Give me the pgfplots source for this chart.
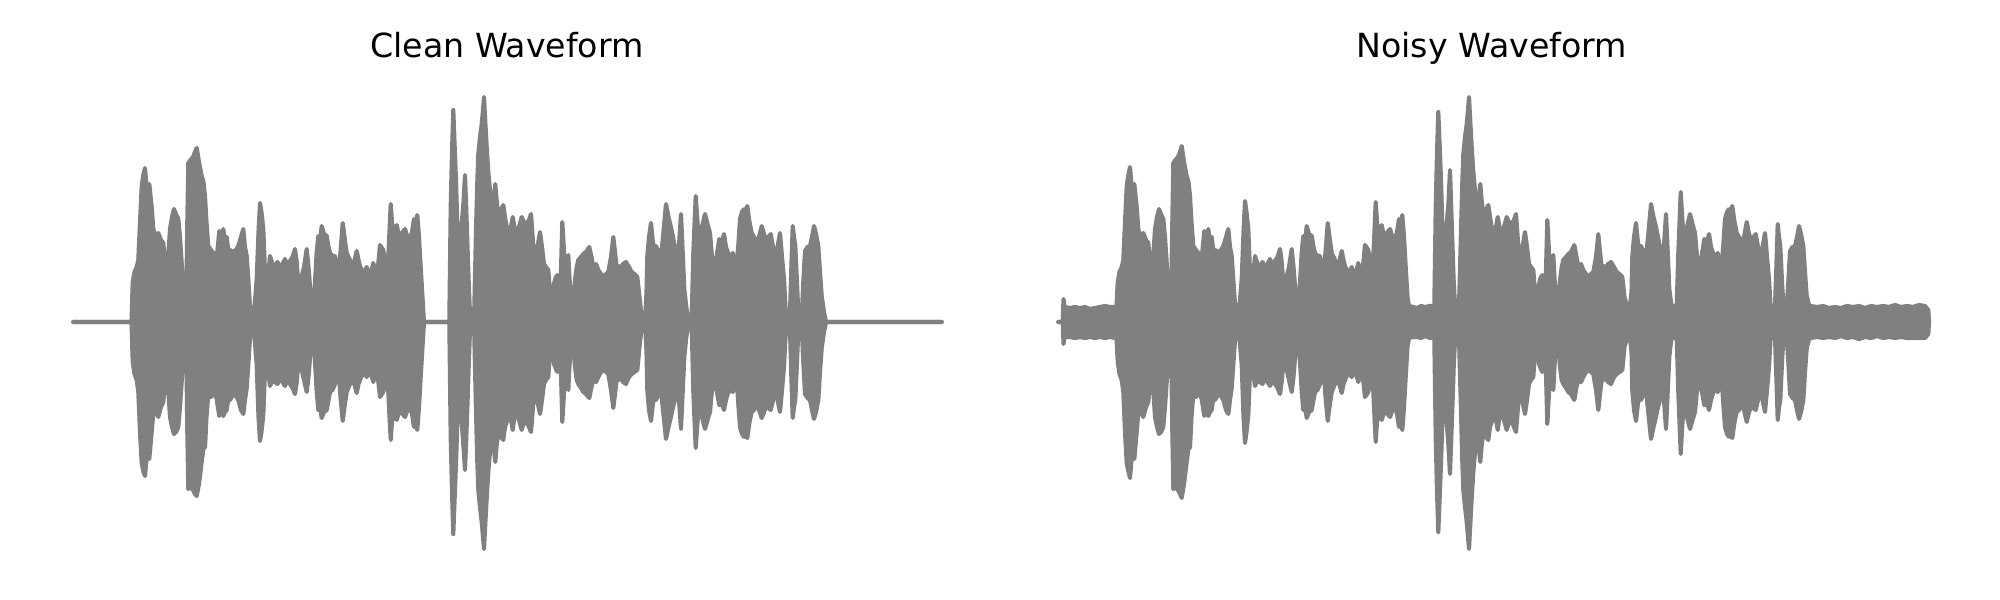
\documentclass[border=0pt]{standalone}
\usepackage{fontspec}
\setmainfont{DejaVu Sans}
\usepackage{pgfplots}
\usepackage{pgfplotstable}
\pgfplotsset{compat=1.18}
\definecolor{wave}{RGB}{128,128,128}

\pgfplotstableread{
x up lo
73.3 0 0
131.5 0 0
132.7 40 -40
134.5 50 -52
136.7 55 -58
138.3 62 -70
140 100 -110
141.7 136 -141
143.5 148 -150
145 154 -154
147 130 -132
149.3 138 -137
151.7 115 -110
153.3 93 -91
155.5 85 -88
158.3 89 -95
161 82 -85
163.3 79 -80
165 60 -60
166.7 33 -33
168.5 70 -72
170 93 -95
172 105 -105
174 113 -112
176 108 -110
178.3 103 -105
180 85 -85
181.7 59 -60
183.5 30 -30
185 12 -12
186 0 0
187.3 100 -110
188.3 159 -167
190.5 162 -165
193 165 -168
195 170 -172
196.7 174 -174
199 160 -162
201.7 146 -140
203.5 140 -126
205 126 -126
206.5 100 -95
208.3 76 -72
211 72 -75
213.3 69 -70
216.5 62 -76
219.3 91 -94
221.5 80 -85
223.3 93 -94
225 80 -90
226.7 85 -88
228.5 70 -75
230 72 -78
233.3 70 -72
236 72 -74
238.3 76 -78
241 85 -88
243.3 93 -92
245 75 -78
246.7 66 -66
248.5 40 -40
250 16 -16
252.7 0 0
254.5 15 -15
256.7 43 -43
258.5 90 -95
260 119 -119
261.5 110 -110
263.3 93 -93
265 50 -50
266.7 26 -26
268.5 50 -52
270 66 -64
272.5 58 -58
275 56 -60
277.5 60 -62
280 54 -56
282.5 58 -60
285 63 -64
287.5 55 -58
290 61 -62
292.5 65 -66
295 73 -72
296.7 60 -60
298.3 39 -40
301.7 46 -48
304 55 -58
306.7 73 -70
308.5 55 -55
310 36 -36
311.7 15 -15
313.3 0 0
315 40 -40
316.7 70 -70
318.3 86 -88
320 80 -85
321.7 96 -96
324 88 -90
326.7 86 -88
328.5 75 -78
330 69 -70
332.5 66 -68
335 66 -62
336.7 55 -55
338.3 43 -45
340.5 70 -75
342.7 99 -99
344.5 85 -85
346.7 69 -70
350 62 -62
353.3 56 -58
356.7 71 -71
358.5 62 -62
360 56 -58
363.3 48 -50
366.7 55 -55
370 45 -48
373.3 59 -60
376.7 42 -45
380 77 -75
383.3 72 -70
385.5 58 -58
387.3 45 -48
389 80 -85
390.7 118 -118
392 100 -100
393.3 85 -90
395 90 -92
396.7 97 -98
398.5 88 -92
400 85 -88
402.5 90 -92
405 93 -95
407.5 85 -88
410 82 -85
412 90 -92
414 103 -105
415.5 95 -98
417.3 107 -108
419 85 -85
420.7 55 -55
422.5 25 -25
424 0 0
449.3 0 0
450.7 115 -115
452 170 -170
453.3 212 -212
454.5 180 -180
456 142 -142
457.5 90 -95
459.3 48 -55
460.5 75 -80
461.7 98 -100
463.5 120 -125
465 147 -148
466.2 115 -118
467.3 82 -88
468.7 40 -45
470 8 -8
474 0 0
476 92 -90
477.3 140 -140
478.3 168 -168
480 185 -185
481.7 198 -200
483 212 -215
484 225 -227
485.3 200 -202
486.7 175 -176
488.3 150 -150
490 132 -130
491.3 118 -120
492.7 108 -110
494 125 -128
495.3 138 -140
496.8 120 -122
498.3 108 -112
501 112 -115
503.3 117 -118
505 105 -105
506.7 95 -100
508 85 -90
509.3 78 -82
511 95 -98
512.7 105 -108
514.5 95 -95
516.7 88 -90
519 95 -98
521.7 105 -108
524 100 -100
526.7 98 -100
529 102 -105
531 108 -110
533 80 -85
535 55 -58
537.5 75 -80
540 90 -92
542 75 -78
544 58 -62
546 55 -58
548.3 52 -55
550 30 -30
551.7 8 -8
553 25 -30
554 38 -42
555.5 44 -46
557.3 47 -50
558.8 30 -30
560 8 -8
561.2 60 -60
562.3 100 -100
563.5 80 -80
565 48 -50
566.5 58 -60
568.3 67 -68
570 35 -35
571.7 5 -5
573.3 25 -25
575 42 -45
576.7 55 -58
578.3 62 -62
581 65 -66
583.3 68 -70
586 70 -72
589.3 75 -76
591.5 65 -65
593.3 55 -58
596 58 -60
598.3 52 -55
601 48 -50
603.3 45 -48
606 48 -50
608.3 50 -52
611 65 -68
613.3 85 -86
615 70 -72
616.7 55 -58
618.5 56 -58
620 53 -55
623 58 -60
626 60 -62
629 55 -55
631.7 50 -52
634.5 48 -50
637.3 45 -48
639.5 25 -25
641.7 5 -5
645 0 0
646.5 30 -30
647.3 66 -68
649 85 -88
651 99 -99
653.3 76 -78
656 76 -78
658.5 70 -72
660.7 63 -66
663 85 -88
666 118 -117
668.5 105 -105
670.7 96 -96
673 85 -85
675 74 -78
678.3 66 -68
681 108 -107
682.7 70 -70
684.3 33 -35
686.3 15 -15
688.3 4 -4
691.7 3 -3
693.3 69 -70
695.7 126 -126
697.5 100 -100
699.3 79 -80
702 95 -95
705 108 -107
707.5 98 -98
710 89 -90
712 65 -68
714 43 -45
716.5 65 -68
719.3 83 -83
722 80 -82
724 88 -88
726 75 -78
728.3 68 -70
730.5 65 -68
732.7 69 -70
734.7 60 -62
736.7 56 -58
738.5 80 -85
740 103 -105
742 110 -112
744 113 -115
745.8 112 -114
747.3 116 -116
749.5 100 -100
751.7 89 -90
754 85 -88
756.7 79 -82
759 85 -88
761.7 96 -96
764 88 -90
766 83 -85
768.5 85 -86
770.7 88 -88
773 75 -78
775 63 -66
777.5 75 -78
780 89 -90
782 65 -68
784 43 -45
785.5 15 -15
786.7 4 -4
790 9 -9
791.5 60 -60
792.7 96 -96
794 85 -85
795.3 76 -78
797 40 -40
798.3 9 -9
801.7 6 -6
803.3 40 -40
805 71 -72
807.5 75 -76
810 76 -78
812 85 -88
814 96 -97
816 88 -90
818.3 76 -78
820 50 -50
821.7 26 -26
824 10 -10
826 0 0
941.7 0 0
}\cleantab

\pgfplotstableread{
x up lo
73.3 0 0
77.7 0 0
78.5 23 -22
79.5 15 -15
85 14 -15
90 15 -16
95 14 -15
100 15 -16
105 13 -15
110 14 -16
115 15 -15
120 16 -16
125 15 -15
130 15 -16
131.5 16 -16
132.7 40 -40
134.5 50 -52
136.7 55 -58
138.3 62 -70
140 100 -110
141.7 136 -141
143.5 148 -150
145 155 -156
147 130 -132
149.3 138 -137
151.7 115 -110
153.3 93 -91
155.5 85 -88
158.3 89 -95
161 82 -85
163.3 79 -80
165 60 -60
166.7 33 -33
168.5 70 -72
170 93 -95
172 105 -105
174 113 -112
176 108 -110
178.3 103 -105
180 85 -85
181.7 59 -60
183.5 30 -30
185 16 -16
186 16 -16
187.3 100 -110
188.3 159 -167
190.5 162 -165
193 165 -168
195 170 -172
196.7 176 -176
199 160 -162
201.7 146 -140
203.5 140 -126
205 126 -126
206.5 100 -95
208.3 76 -72
211 72 -75
213.3 69 -70
216.5 62 -76
219.3 91 -94
221.5 80 -85
223.3 93 -94
225 80 -90
226.7 85 -88
228.5 70 -75
230 72 -78
233.3 70 -72
236 72 -74
238.3 76 -78
241 85 -88
243.3 93 -92
245 75 -78
246.7 66 -66
248.5 40 -40
250 18 -18
252.7 16 -16
254.5 17 -17
256.7 43 -43
258.5 90 -95
260 121 -121
261.5 110 -110
263.3 93 -93
265 50 -50
266.7 26 -26
268.5 50 -52
270 66 -64
272.5 58 -58
275 56 -60
277.5 60 -62
280 54 -56
282.5 58 -60
285 63 -64
287.5 55 -58
290 61 -62
292.5 65 -66
295 73 -72
296.7 60 -60
298.3 39 -40
301.7 46 -48
304 55 -58
306.7 73 -70
308.5 55 -55
310 36 -36
311.7 17 -17
313.3 16 -16
315 40 -40
316.7 70 -70
318.3 86 -88
320 80 -85
321.7 96 -96
324 88 -90
326.7 86 -88
328.5 75 -78
330 69 -70
332.5 66 -68
335 66 -62
336.7 55 -55
338.3 43 -45
340.5 70 -75
342.7 99 -99
344.5 85 -85
346.7 69 -70
350 62 -62
353.3 56 -58
356.7 71 -71
358.5 62 -62
360 56 -58
363.3 48 -50
366.7 55 -55
370 45 -48
373.3 59 -60
376.7 42 -45
380 77 -75
383.3 72 -70
385.5 58 -58
387.3 45 -48
389 80 -85
390.7 120 -120
392 100 -100
393.3 85 -90
395 90 -92
396.7 97 -98
398.5 88 -92
400 85 -88
402.5 90 -92
405 93 -95
407.5 85 -88
410 82 -85
412 90 -92
414 103 -105
415.5 95 -98
417.3 107 -108
419 85 -85
420.7 55 -55
422.5 25 -25
424 16 -16
428 15 -15
432 14 -15
436 16 -16
440 15 -14
445 16 -16
449.3 16 -16
450.7 115 -115
452 170 -170
453.3 210 -210
454.5 180 -180
456 142 -142
457.5 90 -95
459.3 50 -55
460.5 75 -80
461.7 98 -100
463.5 120 -125
465 152 -152
466.2 115 -118
467.3 82 -88
468.7 40 -45
470 18 -18
474 16 -16
476 92 -90
477.3 140 -140
478.3 168 -168
480 185 -185
481.7 198 -200
483 212 -215
484 225 -227
485.3 200 -202
486.7 175 -176
488.3 150 -150
490 132 -130
491.3 118 -120
492.7 108 -110
494 125 -128
495.3 138 -140
496.8 120 -122
498.3 108 -112
501 112 -115
503.3 117 -118
505 105 -105
506.7 95 -100
508 85 -90
509.3 78 -82
511 95 -98
512.7 105 -108
514.5 95 -95
516.7 88 -90
519 95 -98
521.7 105 -108
524 100 -100
526.7 98 -100
529 102 -105
531 108 -110
533 80 -85
535 55 -58
537.5 75 -80
540 90 -92
542 75 -78
544 58 -62
546 55 -58
548.3 52 -55
550 30 -30
551.7 17 -17
553 25 -30
554 38 -42
555.5 44 -46
557.3 47 -50
558.8 30 -30
560 17 -17
561.2 60 -60
562.3 102 -102
563.5 80 -80
565 48 -50
566.5 58 -60
568.3 67 -68
570 35 -35
571.7 17 -17
573.3 25 -25
575 42 -45
576.7 55 -58
578.3 62 -62
581 65 -66
583.3 68 -70
586 70 -72
589.3 77 -78
591.5 65 -65
593.3 55 -58
596 58 -60
598.3 52 -55
601 48 -50
603.3 45 -48
606 48 -50
608.3 50 -52
611 65 -68
613.3 88 -88
615 70 -72
616.7 55 -58
618.5 56 -58
620 53 -55
623 58 -60
626 60 -62
629 55 -55
631.7 50 -52
634.5 48 -50
637.3 45 -48
639.5 25 -25
641.7 17 -17
645 16 -16
646.5 30 -30
647.3 66 -68
649 85 -88
651 99 -99
653.3 76 -78
656 76 -78
658.5 70 -72
660.7 63 -66
663 85 -88
666 118 -117
668.5 105 -105
670.7 96 -96
673 85 -85
675 74 -78
678.3 66 -68
681 108 -107
682.7 70 -70
684.3 33 -35
686.3 17 -17
688.3 16 -16
691.7 16 -16
693.3 69 -70
695.7 130 -132
697.5 100 -100
699.3 79 -80
702 95 -95
705 108 -107
707.5 98 -98
710 89 -90
712 65 -68
714 43 -45
716.5 65 -68
719.3 83 -83
722 80 -82
724 88 -88
726 75 -78
728.3 68 -70
730.5 65 -68
732.7 69 -70
734.7 60 -62
736.7 56 -58
738.5 80 -85
740 103 -105
742 110 -112
744 113 -115
745.8 112 -114
747.3 116 -116
749.5 100 -100
751.7 89 -90
754 85 -88
756.7 79 -82
759 85 -88
761.7 100 -100
764 88 -90
766 83 -85
768.5 85 -86
770.7 88 -88
773 75 -78
775 63 -66
777.5 75 -78
780 89 -90
782 65 -68
784 43 -45
785.5 17 -17
786.7 16 -16
790 16 -16
791.5 60 -60
792.7 98 -98
794 85 -85
795.3 76 -78
797 40 -40
798.3 17 -17
801.7 16 -16
803.3 40 -40
805 71 -72
807.5 75 -76
810 76 -78
812 85 -88
814 96 -97
816 88 -90
818.3 76 -78
820 50 -50
821.7 26 -26
824 17 -17
826 16 -16
832 15 -15
838 16 -16
844 14 -15
850 15 -16
856 14 -14
862 16 -16
868 15 -15
874 16 -17
880 14 -15
886 16 -16
892 15 -14
898 16 -16
904 15 -15
910 17 -16
916 15 -15
922 16 -16
928 15 -16
934 17 -16
940 16 -16
943.3 12 -12
944 0 0
}\noisytab

\begin{document}
\begin{tikzpicture}
\path[use as bounding box] (0pt,0pt) rectangle (722.7pt,216.81pt);
\begin{axis}[
  at={(0pt,0pt)}, anchor=south west,
  scale only axis, width=361.35pt, height=216.81pt,
  xmin=0, xmax=1000, ymin=-278, ymax=322,
  axis line style={draw=none}, xtick=\empty, ytick=\empty,
  clip=false,
]
\addplot[fill=wave, draw=wave, line width=1.5pt, line join=round] table[x=x,y=up]{\cleantab} \closedcycle;
\addplot[fill=wave, draw=wave, line width=1.5pt, line join=round] table[x=x,y=lo]{\cleantab} \closedcycle;
\node[anchor=base, font=\fontsize{12}{14.4}\selectfont] at (rel axis cs:0.507,0.9045) {Clean Waveform};
\end{axis}
\begin{axis}[
  at={(361.35pt,0pt)}, anchor=south west,
  scale only axis, width=361.35pt, height=216.81pt,
  xmin=15, xmax=1015, ymin=-278, ymax=322,
  axis line style={draw=none}, xtick=\empty, ytick=\empty,
  clip=false,
]
\addplot[fill=wave, draw=wave, line width=1.5pt, line join=round] table[x=x,y=up]{\noisytab} \closedcycle;
\addplot[fill=wave, draw=wave, line width=1.5pt, line join=round] table[x=x,y=lo]{\noisytab} \closedcycle;
\node[anchor=base, font=\fontsize{12}{14.4}\selectfont] at (rel axis cs:0.4917,0.9045) {Noisy Waveform};
\end{axis}
\end{tikzpicture}
\end{document}
